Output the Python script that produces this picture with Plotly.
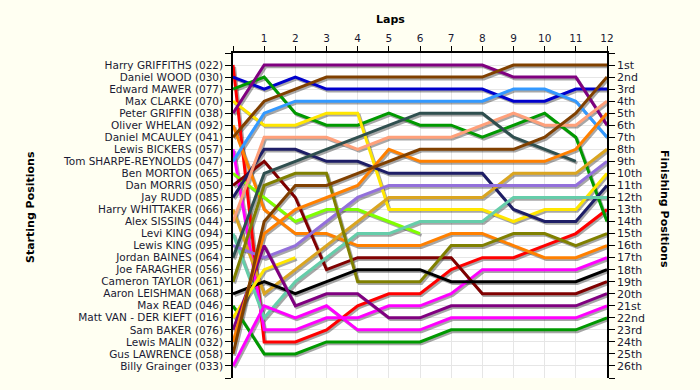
import plotly.graph_objects as go

laps = list(range(0, 13))
lap_labels = [""] + [str(i) for i in range(1, 13)]

starters = [
    "Harry GRIFFITHS (022)", "Daniel WOOD (030)", "Edward MAWER (077)", "Max CLARKE (070)",
    "Peter GRIFFIN (038)", "Oliver WHELAN (092)", "Daniel MCAULEY (041)", "Lewis BICKERS (057)",
    "Tom SHARPE-REYNOLDS (047)", "Ben MORTON (065)", "Dan MORRIS (050)", "Jay RUDD (085)",
    "Harry WHITTAKER (066)", "Alex SISSINS (044)", "Levi KING (094)", "Lewis KING (095)",
    "Jordan BAINES (064)", "Joe FARAGHER (056)", "Cameron TAYLOR (061)", "Aaron LEISHMAN (068)",
    "Max READ (046)", "Matt VAN - DER KIEFT (016)", "Sam BAKER (076)", "Lewis MALIN (032)",
    "Gus LAWRENCE (058)", "Billy Grainger (033)",
]

finish_labels = ["1st", "2nd", "3rd"] + [f"{i}th" for i in range(4, 21)] + \
    ["21st", "22nd", "23rd", "24th", "25th", "26th"]

# positions per lap (lap 0 = grid)
pos_griffiths = [1, 24, 24, 23, 21, 20, 20, 18, 17, 17, 16, 15, 13]
pos_wood = [2, 3, 2, 3, 3, 3, 3, 3, 3, 4, 4, 3, 3]
pos_mawer = [3, 2, 5, 6, 6, 5, 6, 6, 7, 6, 5, 7, 14]
pos_clarke = [4, 6, 6, 5, 5, 13, 13, 13, 13, 14, 13, 13, 10]
pos_griffin = [5, 1, 1, 1, 1, 1, 1, 1, 1, 2, 2, 2, 6]
pos_whelan = [6, 13, 15, 15, 16, 16, 16, 15, 15, 16, 17, 17, 16]
pos_mcauley = [7, 4, 3, 2, 2, 2, 2, 2, 2, 1, 1, 1, 1]
pos_bickers = [8, 23, 23, 22, 22, 21, 21, 20, 18, 18, 18, 18, 17]
pos_sharpe = [9, 5, 4, 4, 4, 4, 4, 4, 4, 3, 3, 4, 7]
pos_morton = [10, 12, 14, 13, 13, 14, 15]
pos_morris = [11, 9, 12, 18, 17, 17, 17, 17, 20, 20, 20, 20, 19]
pos_rudd = [12, 8, 8, 9, 9, 10, 10, 10, 10, 13, 14, 14, 11]
pos_whittaker = [13, 20, 18, 16, 14, 12, 12, 12, 12, 10, 10, 10, 8]
pos_sissins = [14, 7, 7, 7, 8, 7, 7, 7, 6, 5, 6, 6, 4]
pos_levi = [15, 22, 19, 17, 15, 15, 14, 14, 14, 12, 12, 12, 12]
pos_lewisk = [16, 17, 16, 14, 12, 11, 11, 11, 11, 11, 11, 11, 9]
pos_baines = [17, 10, 9, 8, 7, 6, 5, 5, 5, 7, 8, 9]
pos_faragher = [18]
pos_taylor = [19, 11, 10, 10, 19, 19, 19, 16, 16, 15, 15, 16, 15]
pos_leishman = [20, 19, 20, 19, 18, 18, 18, 19, 19, 19, 19, 19, 18]
pos_read = [21, 25, 25, 24, 24, 24, 24, 23, 23, 23, 23, 23, 22]
pos_vanderkieft = [22, 18, 17]
pos_baker = [23, 16, 21, 20, 20, 22, 22, 21, 21, 21, 21, 21, 20]
pos_malin = [24, 15, 13, 12, 11, 8, 9, 9, 9, 9, 9, 8, 5]
pos_lawrence = [25, 14, 11, 11, 10, 9, 8, 8, 8, 8, 7, 5, 2]
pos_grainger = [26, 21, 22, 21, 23, 23, 23, 22, 22, 22, 22, 22, 21]

positions = [
    pos_griffiths, pos_wood, pos_mawer, pos_clarke, pos_griffin, pos_whelan, pos_mcauley,
    pos_bickers, pos_sharpe, pos_morton, pos_morris, pos_rudd, pos_whittaker, pos_sissins,
    pos_levi, pos_lewisk, pos_baines, pos_faragher, pos_taylor, pos_leishman, pos_read,
    pos_vanderkieft, pos_baker, pos_malin, pos_lawrence, pos_grainger,
]

colors = [
    "#FF0000", "#0000CC", "#009900", "#FFE600", "#800080", "#FF8000", "#804000",
    "#FF00FF", "#3399FF", "#80FF00", "#800000", "#1E1E66", "#DAA520", "#FFA07A",
    "#66CDAA", "#9370DB", "#2F4F4F", "#A0A0A0", "#808000", "#000000", "#009900",
    "#FFE600", "#800080", "#FF8000", "#804000", "#FF00FF",
]

fig = go.Figure()

# drop shadows
for pos in positions:
    if len(pos) < 2:
        continue
    xs = [x + 0.05 for x in laps[:len(pos)]]
    ys = [y + 0.15 for y in pos]
    fig.add_trace(go.Scatter(x=xs, y=ys, mode="lines",
                             line=dict(color="rgba(60,60,60,0.45)", width=3),
                             hoverinfo="skip", showlegend=False))

for name, pos, col in zip(starters, positions, colors):
    if len(pos) < 2:
        continue
    fig.add_trace(go.Scatter(x=laps[:len(pos)], y=pos, mode="lines", name=name,
                             line=dict(color=col, width=3), showlegend=False))

# dummy trace so the right axis is drawn
fig.add_trace(go.Scatter(x=[None], y=[None], yaxis="y2", showlegend=False, hoverinfo="skip"))

font_main = "DejaVu Sans"
txtcol = "#1A1A33"

W, H = 700, 390
l, r, t, b = 233, 93, 53, 12
pw, ph = W - l - r, H - t - b


def px_x(x):
    return (x - l) / pw


def px_y(y):
    return (H - b - y) / ph


fig.update_layout(
    width=W, height=H,
    margin=dict(l=l, r=r, t=t, b=b, autoexpand=False),
    paper_bgcolor="#FFFFF2",
    plot_bgcolor="#FFFFFF",
    font=dict(family=font_main, size=10.5, color=txtcol),
    xaxis=dict(
        side="top", range=[0, 12], tickvals=laps, ticktext=lap_labels,
        showgrid=True, gridcolor="#E6E6E6", gridwidth=1, zeroline=False,
        showline=True, linecolor="#000000", linewidth=1.5, mirror=False,
        ticks="outside", ticklen=5, tickcolor="#000000",
        tickfont=dict(size=10.5, color=txtcol),
    ),
    yaxis=dict(
        range=[27, 0], tickvals=list(range(0, 28)),
        ticktext=[""] + starters + [""],
        showgrid=True, gridcolor="#E6E6E6", gridwidth=1, zeroline=False,
        showline=True, linecolor="#000000", linewidth=1.5,
        ticks="outside", ticklen=6, tickcolor="#000000",
        tickfont=dict(size=10.5, color=txtcol),
    ),
    yaxis2=dict(
        overlaying="y", side="right", range=[27, 0], tickvals=list(range(0, 28)),
        ticktext=[""] + finish_labels + [""],
        showgrid=False, zeroline=False,
        showline=True, linecolor="#000000", linewidth=1.5,
        ticks="outside", ticklen=6, tickcolor="#000000",
        tickfont=dict(size=11, color=txtcol),
    ),
    annotations=[
        dict(text="<b>Laps</b>", x=px_x(390), y=px_y(20), xref="paper", yref="paper",
             xanchor="center", yanchor="middle", showarrow=False,
             font=dict(size=11, color="#000000")),
        dict(text="<b>Starting Positions</b>", x=px_x(30), y=px_y(207), xref="paper", yref="paper",
             xanchor="center", yanchor="middle", showarrow=False, textangle=-90,
             font=dict(size=11, color="#000000")),
        dict(text="<b>Finishing Positions</b>", x=px_x(665), y=px_y(209), xref="paper", yref="paper",
             xanchor="center", yanchor="middle", showarrow=False, textangle=90,
             font=dict(size=11, color="#000000")),
    ],
)

fig.write_html("out.html", config={"displayModeBar": False},
               post_script="document.body.style.margin='0';document.body.style.background='#FFFFF2';")
